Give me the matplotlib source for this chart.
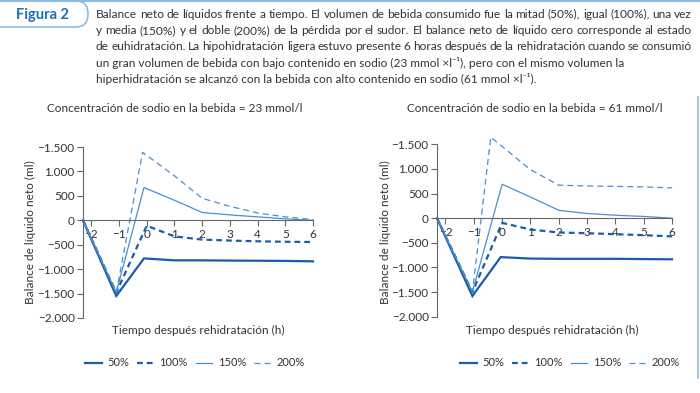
import matplotlib
matplotlib.use("Agg")
import matplotlib.pyplot as plt
from matplotlib.patches import PathPatch
from matplotlib.path import Path

plt.rcParams["font.family"] = ["Lato", "DejaVu Sans"]

# Data (ml of net fluid balance)
series_labels = ["50%", "100%", "150%", "200%"]

# 23 mmol/l drink
t_23_50 = [-2.3, -1.1, -0.1, 1, 2, 3, 4, 5, 6]
v_23_50 = [0, -1550, -780, -820, -820, -825, -828, -832, -840]
t_23_100 = [-2.3, -1.1, 0.0, 1, 2, 3, 4, 5, 6]
v_23_100 = [0, -1480, -110, -330, -395, -415, -430, -440, -445]
t_23_150 = [-2.3, -1.1, -0.1, 1, 2, 3, 4, 5, 6]
v_23_150 = [0, -1480, 670, 410, 160, 110, 70, 30, 0]
t_23_200 = [-2.3, -1.1, -0.15, 1, 2, 3, 4, 5, 6]
v_23_200 = [0, -1480, 1390, 910, 450, 285, 150, 70, 15]

# 61 mmol/l drink
t_61_50 = [-2.3, -1.05, -0.05, 1, 2, 3, 4, 5, 6]
v_61_50 = [0, -1580, -790, -820, -825, -825, -825, -830, -835]
t_61_100 = [-2.3, -1.05, 0.0, 1, 2, 3, 4, 5, 6]
v_61_100 = [0, -1500, -95, -230, -290, -305, -325, -345, -370]
t_61_150 = [-2.3, -1.05, 0.0, 1, 2, 3, 4, 5, 6]
v_61_150 = [0, -1500, 690, 430, 160, 95, 60, 35, 0]
t_61_200 = [-2.3, -1.05, -0.4, 1, 2, 3, 4, 5, 6]
v_61_200 = [0, -1500, 1645, 985, 670, 655, 645, 635, 615]

x_ticks = [-2, -1, 0, 1, 2, 3, 4, 5, 6]
x_tick_labels = ["\u22122", "\u22121", "0", "1", "2", "3", "4", "5", "6"]
y_ticks = [1500, 1000, 500, 0, -500, -1000, -1500, -2000]
y_tick_labels = ["\u22121.500", "1.000", "500", "0", "\u2212500",
                 "\u22121.000", "\u22121.500", "\u22122.000"]

panel_titles = ["Concentración de sodio en la bebida = 23 mmol/l",
                "Concentración de sodio en la bebida = 61 mmol/l"]

caption_lines = [
    "Balance neto de líquidos frente a tiempo. El volumen de bebida consumido fue la mitad (50%), igual (100%), una vez",
    "y media (150%) y el doble (200%) de la pérdida por el sudor. El balance neto de líquido cero corresponde al estado",
    "de euhidratación. La hipohidratación ligera estuvo presente 6 horas después de la rehidratación cuando se consumió",
    "un gran volumen de bebida con bajo contenido en sodio (23 mmol \u00d7l\u207b\u00b9), pero con el mismo volumen la",
    "hiperhidratación se alcanzó con la bebida con alto contenido en sodio (61 mmol \u00d7l\u207b\u00b9).",
]
justified = [True, True, True, False, False]

dark = "#1b5cab"
light = "#4a8fd0"
border = "#8fbbe3"
text_col = "#333333"

styles = [
    dict(color=dark, lw=1.6, ls="-"),
    dict(color=dark, lw=1.6, ls=(0, (2.6, 1.8))),
    dict(color=light, lw=0.9, ls="-"),
    dict(color=light, lw=0.9, ls=(0, (4.8, 3.2))),
]

fig = plt.figure(figsize=(7, 3.93), dpi=100)

# Background layer in pixel coordinates for header, borders and captions
bg = fig.add_axes([0, 0, 1, 1])
bg.set_xlim(0, 700)
bg.set_ylim(393, 0)
bg.axis("off")

bg.plot([0, 700], [0.8, 0.8], color=border, lw=1.5)
bg.plot([698, 698], [97, 378], color=border, lw=1.2)

box = Path([(-5, 1), (76, 1), (88, 1), (88, 14), (88, 27), (76, 27), (-5, 27)],
           [Path.MOVETO, Path.LINETO, Path.CURVE3, Path.CURVE3,
            Path.CURVE3, Path.CURVE3, Path.LINETO])
bg.add_patch(PathPatch(box, fill=False, edgecolor=border, lw=1.2))
bg.text(42, 15, "Figura 2", color="#1f6db8", fontsize=10.5,
        fontweight="bold", ha="center", va="center")

# Caption, lines 1-3 justified
cap_x0, cap_x1 = 96, 692
cap_y = [14, 31, 47, 63, 79]
cap_size = 8.6
fig.canvas.draw()
renderer = fig.canvas.get_renderer()
for line, y, just in zip(caption_lines, cap_y, justified):
    if not just:
        bg.text(cap_x0, y, line, fontsize=cap_size, color=text_col,
                va="center", ha="left")
        continue
    words = line.split(" ")
    items = []
    widths = []
    for w in words:
        t = bg.text(0, y, w, fontsize=cap_size, color=text_col,
                    va="center", ha="left")
        bb = t.get_window_extent(renderer)
        items.append(t)
        widths.append(bb.width)
    gap = (cap_x1 - cap_x0 - sum(widths)) / (len(words) - 1)
    x = cap_x0
    for t, w in zip(items, widths):
        t.set_x(x)
        x += w + gap

# Panels
panels = [
    dict(rect=[83 / 700, 1 - 318 / 393, 230 / 700, 171 / 393],
         times=[t_23_50, t_23_100, t_23_150, t_23_200],
         vals=[v_23_50, v_23_100, v_23_150, v_23_200],
         title_x=175, ylab_x=30, leg_x=195),
    dict(rect=[437 / 700, 1 - 316.7 / 393, 235 / 700, 172.4 / 393],
         times=[t_61_50, t_61_100, t_61_150, t_61_200],
         vals=[v_61_50, v_61_100, v_61_150, v_61_200],
         title_x=535, ylab_x=385, leg_x=570),
]

for i, p in enumerate(panels):
    ax = fig.add_axes(p["rect"])
    for t, v, lab, st in zip(p["times"], p["vals"], series_labels, styles):
        ax.plot(t, v, label=lab, clip_on=False, solid_joinstyle="miter", **st)

    ax.set_xlim(-2.3, 6)
    ax.set_ylim(-2000, 1500)
    ax.spines["top"].set_visible(False)
    ax.spines["right"].set_visible(False)
    ax.spines["bottom"].set_position(("data", 0))
    for s in ["left", "bottom"]:
        ax.spines[s].set_color("#666666")
        ax.spines[s].set_linewidth(0.8)

    ax.set_xticks(x_ticks)
    ax.set_xticklabels(x_tick_labels)
    ax.set_yticks(y_ticks)
    ax.set_yticklabels(y_tick_labels)
    ax.tick_params(axis="both", labelsize=8.5, colors="#666666",
                   labelcolor=text_col, length=4, width=0.8, pad=2)
    ax.set_facecolor("none")

    bg.text(p["title_x"], 108, panel_titles[i], fontsize=8.5, color=text_col,
            ha="center", va="center")
    bg.text(p["ylab_x"], 232, "Balance de líquido neto (ml)", fontsize=8.5,
            color=text_col, rotation=90, ha="center", va="center")
    bg.text(p["rect"][0] * 700 + 115, 330, "Tiempo después rehidratación (h)",
            fontsize=8.5, color=text_col, ha="center", va="center")

    ax.legend(loc="center", bbox_to_anchor=(p["leg_x"] / 700, 1 - 363 / 393),
              bbox_transform=fig.transFigure, ncol=4, frameon=False,
              fontsize=8.0, handlelength=1.5, handletextpad=0.5,
              columnspacing=0.7, labelcolor=text_col, borderpad=0.2)

plt.savefig("out.png", dpi=100)
plt.close()
